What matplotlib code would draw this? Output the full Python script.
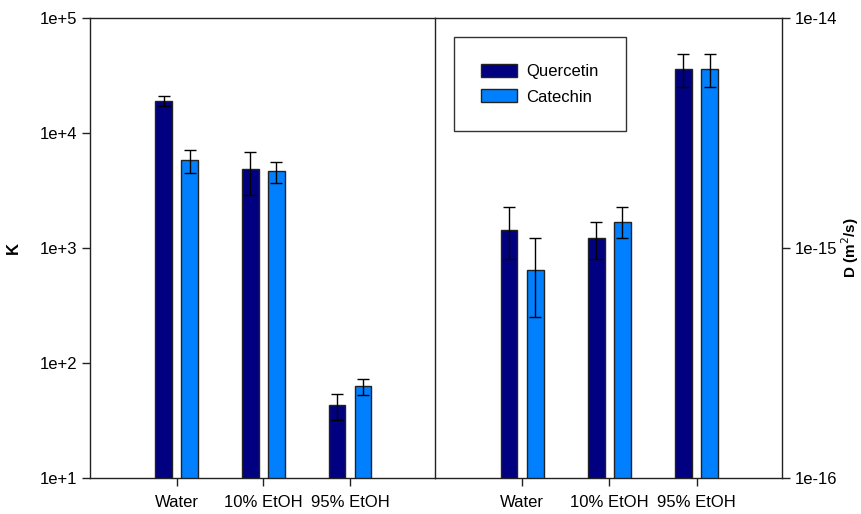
import matplotlib
matplotlib.use("Agg")
import matplotlib.pyplot as plt
import numpy as np

plt.rcParams['font.family'] = ['Liberation Sans', 'DejaVu Sans']

groups = ['Water', '10% EtOH', '95% EtOH']

# partition coefficient K
k_quercetin = [19000, 4900, 43]
k_quercetin_err = [2000, 2000, 11]
k_catechin = [5800, 4650, 63]
k_catechin_err = [1300, 1000, 10]

# diffusion coefficient D (m2/s)
d_quercetin = [1.2e-15, 1.1e-15, 6.0e-15]
d_quercetin_err = [3.0e-16, 2.0e-16, 1.0e-15]
d_catechin = [8.0e-16, 1.3e-15, 6.0e-15]
d_catechin_err = [3.0e-16, 2.0e-16, 1.0e-15]

navy = '#000080'
blue = '#0080FF'

fig = plt.figure(figsize=(8.62, 5.14), dpi=100)
W, H = 862, 514
ax1 = fig.add_axes([90 / W, 1 - 478 / H, (435 - 90) / W, 460 / H])
ax2 = fig.add_axes([435 / W, 1 - 478 / H, (782 - 435) / W, 460 / H])

x = np.arange(1, 4)
bw = 0.19
off = 0.15
bar_kw = dict(width=bw, edgecolor='#222222', linewidth=1.0,
              error_kw=dict(ecolor='black', elinewidth=1.0, capsize=4.5, capthick=1.0))

ax1.bar(x - off, k_quercetin, yerr=k_quercetin_err, color=navy, **bar_kw)
ax1.bar(x + off, k_catechin, yerr=k_catechin_err, color=blue, **bar_kw)
ax1.set_yscale('log')
ax1.set_ylim(10, 1e5)
ax1.set_xlim(0, 3.98)
ax1.set_yticks([1e1, 1e2, 1e3, 1e4, 1e5])
ax1.set_yticklabels(['1e+1', '1e+2', '1e+3', '1e+4', '1e+5'])
ax1.minorticks_off()
ax1.set_xticks(x)
ax1.set_xticklabels(groups)
ax1.set_ylabel('K', fontweight='bold', fontsize=12, labelpad=14)
ax1.spines['right'].set_visible(False)

ax2.bar(x - off, d_quercetin, yerr=d_quercetin_err, color=navy, label='Quercetin', **bar_kw)
ax2.bar(x + off, d_catechin, yerr=d_catechin_err, color=blue, label='Catechin', **bar_kw)
ax2.set_yscale('log')
ax2.set_ylim(1e-16, 1e-14)
ax2.set_xlim(0, 3.98)
ax2.set_yticks([1e-16, 1e-15, 1e-14])
ax2.set_yticklabels(['1e-16', '1e-15', '1e-14'])
ax2.minorticks_off()
ax2.set_xticks(x)
ax2.set_xticklabels(groups)
ax2.yaxis.tick_right()
ax2.yaxis.set_label_position('right')
ax2.set_ylabel('D (m$^2$/s)', fontweight='bold', fontsize=11, labelpad=2)

for ax in (ax1, ax2):
    for s in ax.spines.values():
        s.set_linewidth(1.0)
        s.set_color('#222222')
    ax.tick_params(axis='both', direction='out', length=6, width=1.0,
                   labelsize=12, pad=3, color='#222222')
    ax.tick_params(axis='x', pad=6)

leg = ax2.legend(loc='upper left', bbox_to_anchor=((454 - 435) / 347, 1 - (37 - 18) / 460),
                 fontsize=12, frameon=True, fancybox=False, edgecolor='black',
                 handlelength=2.2, handleheight=0.85, borderpad=1.6, labelspacing=0.6,
                 borderaxespad=0, handletextpad=0.55)
leg.get_frame().set_linewidth(1.0)

fig.savefig('out.png', dpi=100)
